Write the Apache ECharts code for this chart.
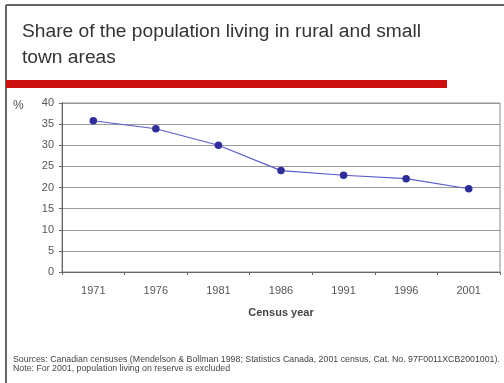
<!DOCTYPE html>
<html>
<head>
<meta charset="utf-8">
<script src="https://cdn.jsdelivr.net/npm/echarts@6/dist/echarts.min.js"></script>
<style>
  html, body { margin: 0; padding: 0; background: #fff; }
  #chart { width: 504px; height: 383px; }
</style>
</head>
<body>
<div id="chart"></div>
<script>
// Census years and share (%) of population in rural and small town areas
const censusYears = ['1971', '1976', '1981', '1986', '1991', '1996', '2001'];
const ruralShare = [35.8, 33.9, 30.0, 24.0, 22.9, 22.1, 19.7];
const yTicks = { min: 0, max: 40, interval: 5 };

const titleText = 'Share of the population living in rural and small\ntown areas';
const sourceText = 'Sources: Canadian censuses (Mendelson & Bollman 1998; Statistics Canada, 2001 census, Cat. No. 97F0011XCB2001001).\nNote: For 2001, population living on reserve is excluded';

const chart = echarts.init(document.getElementById('chart'), null, { renderer: 'canvas' });

chart.setOption({
  backgroundColor: '#ffffff',
  animation: false,
  title: {
    text: titleText,
    left: 17,
    top: 14,
    textStyle: {
      fontFamily: 'Liberation Sans, Arial, sans-serif',
      fontSize: 19.2,
      fontWeight: 'normal',
      color: '#333333',
      lineHeight: 26
    }
  },
  graphic: [
    // frame lines along top and left
    { type: 'line', shape: { x1: 6, y1: 5, x2: 504, y2: 5 }, style: { stroke: '#666666', lineWidth: 2 } },
    { type: 'line', shape: { x1: 6, y1: 5, x2: 6, y2: 383 }, style: { stroke: '#666666', lineWidth: 2 } },
    // red rule under the title
    { type: 'rect', shape: { x: 6, y: 80, width: 441, height: 8 }, style: { fill: '#cc0f0f' } },
    // unit label
    { type: 'text', left: 13, top: 100, style: { text: '%', font: '12px Liberation Sans, Arial, sans-serif', fill: '#555555' } },
    // source note
    { type: 'text', left: 13, top: 355, style: { text: sourceText, font: '8.8px Liberation Sans, Arial, sans-serif', fill: '#444444', lineHeight: 9 } }
  ],
  grid: {
    left: 62,
    right: 4,
    top: 103,
    bottom: 111,
    show: true,
    borderColor: '#8a8a8a',
    borderWidth: 1
  },
  xAxis: {
    type: 'category',
    data: censusYears,
    boundaryGap: true,
    name: 'Census year',
    nameLocation: 'middle',
    nameGap: 35,
    nameTextStyle: {
      fontFamily: 'Liberation Sans, Arial, sans-serif',
      fontSize: 11,
      fontWeight: 'bold',
      color: '#444444'
    },
    axisLine: { lineStyle: { color: '#666666' } },
    axisTick: { show: true, length: 3, lineStyle: { color: '#666666' } },
    axisLabel: {
      margin: 13,
      fontFamily: 'Liberation Sans, Arial, sans-serif',
      fontSize: 11,
      color: '#555555'
    }
  },
  yAxis: {
    type: 'value',
    min: yTicks.min,
    max: yTicks.max,
    interval: yTicks.interval,
    axisLine: { show: true, lineStyle: { color: '#666666' } },
    axisTick: { show: true, length: 3, lineStyle: { color: '#666666' } },
    axisLabel: {
      margin: 8,
      fontFamily: 'Liberation Sans, Arial, sans-serif',
      fontSize: 11,
      color: '#555555'
    },
    splitLine: { show: true, lineStyle: { color: '#9a9a9a', width: 1 } }
  },
  series: [{
    type: 'line',
    data: ruralShare,
    symbol: 'circle',
    symbolSize: 7.5,
    lineStyle: { color: '#5b5bd0', width: 1.2 },
    itemStyle: { color: '#2e2e9a' }
  }]
});
</script>
</body>
</html>
